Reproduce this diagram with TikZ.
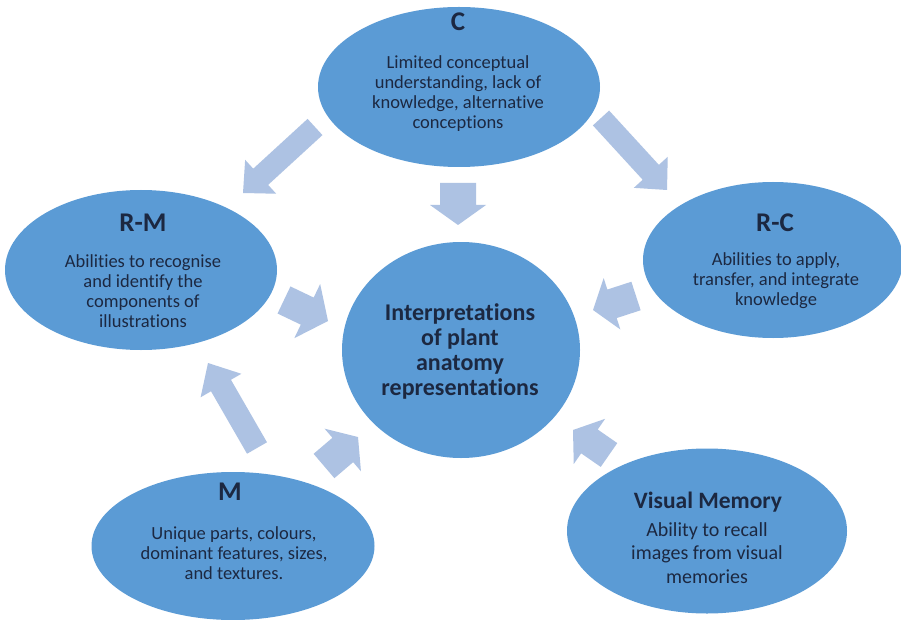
\documentclass[tikz,border=0pt]{standalone}
\usepackage{fontspec}
\setmainfont{Carlito}[Ligatures=NoCommon]
\usetikzlibrary{shapes.geometric,calc}
\definecolor{ellfill}{HTML}{5B9BD5}
\definecolor{arrfill}{HTML}{ADC2E3}
\definecolor{txt}{HTML}{1C2841}
% block arrow: #1 tail, #2 tip, #3 shaft half width, #4 head half width, #5 head length
\newcommand\barrow[5]{%
  \coordinate (ab) at ($(#2)!#5!(#1)$);
  \fill[arrfill] (#2) -- ($(ab)!#4!90:(#2)$) -- ($(ab)!#3!90:(#2)$)
    -- ($(#1)!#3!90:(#2)$) -- ($(#1)!#3!-90:(#2)$) -- ($(ab)!#3!-90:(#2)$)
    -- ($(ab)!#4!-90:(#2)$) -- cycle;}
\begin{document}
\begin{tikzpicture}[x=1pt,y=-1pt,
  blob/.style={ellipse, fill=ellfill, inner sep=0pt, draw=none},
  ttl/.style={text=txt, font=\bfseries\fontsize{27}{30}\selectfont, inner sep=0pt},
  body/.style={text=txt, font=\fontsize{18.5}{20}\selectfont, align=center, inner sep=0pt},
  ctext/.style={text=txt, font=\bfseries\fontsize{24}{25}\selectfont, align=center, inner sep=0pt}]
\fill[white] (0,0) rectangle (901,620);
\useasboundingbox (0,0) rectangle (901,620);

% ellipses
\node[blob, minimum width=282pt, minimum height=160pt] (c) at (459,87) {};
\node[blob, minimum width=272pt, minimum height=160pt] (rm) at (141,270) {};
\node[blob, minimum width=260pt, minimum height=156pt] (rc) at (773,260) {};
\node[blob, minimum width=238pt, minimum height=216pt] (ctr) at (461,350) {};
\node[blob, minimum width=283pt, minimum height=148pt] (m) at (233,546) {};
\node[blob, minimum width=280pt, minimum height=165pt] (vm) at (707,531) {};

% texts
\node[ttl] (ct) at (458,22) {C};
\node[body] (cb) at (458,94) {Limited conceptual\\understanding, lack of\\knowledge, alternative\\conceptions};
\node[ttl] (rmt) at (143,223) {R-M};
\node[body] (rmb) at (143,291) {Abilities to recognise\\and identify the\\components of\\illustrations};
\node[ttl] (rct) at (775,223) {R-C};
\node[body] (rcb) at (776,281) {Abilities to apply,\\transfer, and integrate\\knowledge};
\node[ctext] (ctrt) at (460,351) {Interpretations\\of plant\\anatomy\\representations};
\node[ttl] (mt) at (230,492) {M};
\node[body] (mb) at (234,553) {Unique parts, colours,\\dominant features, sizes,\\and textures.};
\node[ttl, font=\bfseries\fontsize{23.5}{26}\selectfont] (vmt) at (708,502) {Visual Memory};
\node[body, font=\fontsize{20}{23.5}\selectfont] (vmb) at (707,553) {Ability to recall\\images from visual\\memories};

% arrow end points
\coordinate (a1s) at (315,127); \coordinate (a1t) at (243,193);
\coordinate (a2s) at (458,183); \coordinate (a2t) at (458,225);
\coordinate (a3s) at (601,118); \coordinate (a3t) at (667,190);
\coordinate (a4s) at (284,300); \coordinate (a4t) at (328,321);
\coordinate (a5s) at (636,296); \coordinate (a5t) at (593,310);
\coordinate (a6s) at (257,448); \coordinate (a6t) at (208,363);
\coordinate (a7s) at (324,466); \coordinate (a7t) at (358,437);
\coordinate (a8s) at (609,455); \coordinate (a8t) at (573,430);

\barrow{a1s}{a1t}{11pt}{23pt}{24pt}
\barrow{a2s}{a2t}{18pt}{28pt}{20pt}
\barrow{a3s}{a3t}{11pt}{23pt}{24pt}
\barrow{a4s}{a4t}{15pt}{30pt}{23pt}
\barrow{a5s}{a5t}{15pt}{27pt}{20pt}
\barrow{a6s}{a6t}{11.5pt}{23.5pt}{26pt}
\barrow{a7s}{a7t}{16pt}{28pt}{20pt}
\barrow{a8s}{a8t}{14.5pt}{27.5pt}{20pt}
\end{tikzpicture}
\end{document}
